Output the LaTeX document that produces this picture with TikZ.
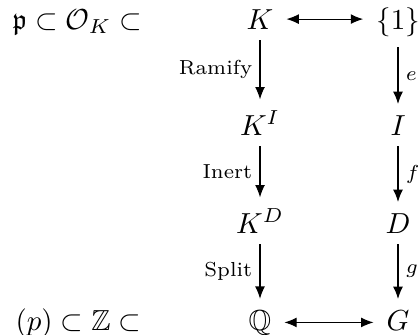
\documentclass[tikz,border=0pt]{standalone}
\usepackage{amsmath,amssymb}
\usetikzlibrary{arrows.meta}

\begin{document}
\begin{tikzpicture}[x=0.345pt,y=-0.345pt,line width=0.4pt,>={Latex[length=1.5mm,width=1.2mm]},
  every node/.style={inner xsep=1ex,inner ysep=.85ex,anchor=base},
  lbl/.style={font=\scriptsize,inner sep=2.5pt}]
  \useasboundingbox (0,0) rectangle (418,334);
  % rings on the left
  \node[anchor=base west,inner sep=0pt] (ringO) at (12,29) {$\mathfrak{p}\subset\mathcal{O}_K\subset$};
  \node[anchor=base west,inner sep=0pt] (ringZ) at (15,330) {$(p)\subset\mathbb{Z}\subset$};
  % fields
  \node (K) at (260,29) {$K$};
  \node (KI) at (260,135) {$K^I$};
  \node (KD) at (260,233) {$K^D$};
  \node (Q) at (260,330) {$\mathbb{Q}$};
  % groups
  \node (one) at (398,29) {$\{1\}$};
  \node (I) at (398,135) {$I$};
  \node (D) at (398,233) {$D$};
  \node (G) at (398,330) {$G$};
  % correspondence
  \draw[<->] (K.east) -- (K.east -| one.west);
  \draw[<->] (Q.east) -- (Q.east -| G.west);
  % towers
  \draw[->] (K) -- node[lbl,left]{Ramify} (KI);
  \draw[->] (KI) -- node[lbl,left]{Inert} (KD);
  \draw[->] (KD) -- node[lbl,left]{Split} (Q);
  \draw[->] (one) -- node[lbl,right]{$e$} (I);
  \draw[->] (I) -- node[lbl,right]{$f$} (D);
  \draw[->] (D) -- node[lbl,right]{$g$} (G);
\end{tikzpicture}
\end{document}
